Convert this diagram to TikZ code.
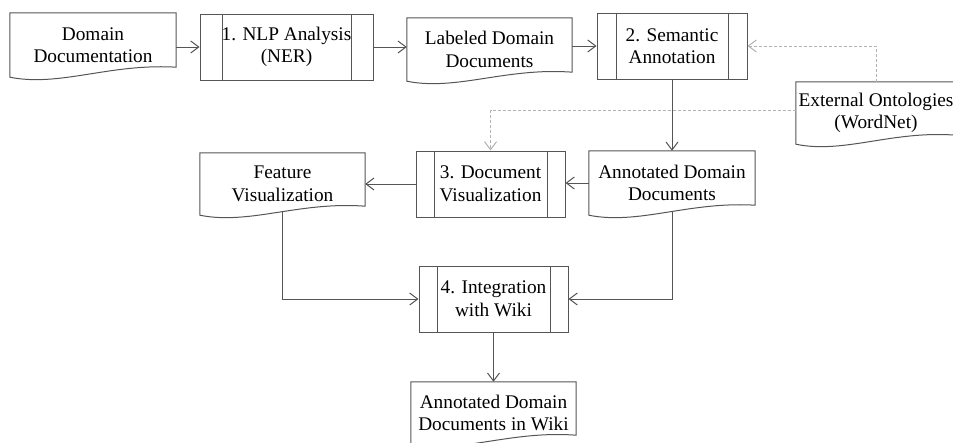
\documentclass[tikz,border=0pt]{standalone}
\usepackage{fontspec}
\setmainfont{Liberation Serif}
\newfontfamily\diagfont{Liberation Serif}
\usetikzlibrary{arrows.meta,calc}
\definecolor{linec}{RGB}{85,85,85}
\definecolor{dashc}{RGB}{178,178,178}
\tikzset{
  boxline/.style={draw=linec,line width=1pt},
  txt/.style={font=\diagfont\fontsize{19.3}{22.5}\selectfont, align=center, text=black, inner sep=0pt},
  docnode/.style={txt, rectangle},
  procbox/.style={txt, boxline, rectangle,
    path picture={\draw[boxline]
      ([xshift=#1pt]path picture bounding box.north west) -- ([xshift=#1pt]path picture bounding box.south west)
      ([xshift=-#1pt]path picture bounding box.north east) -- ([xshift=-#1pt]path picture bounding box.south east);}},
  arr/.style={draw=linec, line width=1pt, -{Straight Barb[length=8pt,width=12pt,line width=1pt]}},
  dasharr/.style={draw=dashc, line width=1pt, dash pattern=on 3pt off 2pt, -{Straight Barb[length=8pt,width=12pt,line width=1pt,sep=0pt]}},
}
\newcommand\drawdocshape[2]{%
  \draw[boxline] (#1.south west) -- (#1.north west) -- (#1.north east) -- ($(#1.south east)+(0,-#2)$)
    .. controls ($(#1.south west)!0.6!(#1.south east)+(0,-14)$) and ($(#1.south west)!0.3!(#1.south east)+(0,10)$) .. (#1.south west) -- cycle;}
\begin{document}
\begin{tikzpicture}[x=1pt,y=-1pt]
\useasboundingbox (0,0) rectangle (953,442);
% document-shaped nodes
\node[docnode, minimum width=166pt, minimum height=64pt] (dd) at (93,45) {Domain\\Documentation};
\node[docnode, minimum width=165pt, minimum height=63pt] (ldd) at (489.5,49.5) {Labeled Domain\\Documents};
\node[docnode, minimum width=160pt, minimum height=62pt] (ext) at (876,113) {External Ontologies\\(WordNet)};
\node[docnode, minimum width=165pt, minimum height=62pt] (fv) at (282.5,184) {Feature\\Visualization};
\node[docnode, minimum width=166pt, minimum height=64pt] (add) at (672,183) {Annotated Domain\\Documents};
\node[docnode, minimum width=165pt, minimum height=62pt] (wiki) at (493.5,413) {Annotated Domain\\Documents in Wiki};
\drawdocshape{dd}{10}
\drawdocshape{ldd}{9}
\drawdocshape{ext}{9}
\drawdocshape{fv}{9}
\drawdocshape{add}{10}
\drawdocshape{wiki}{9}
% process nodes
\node[procbox=22, minimum width=173pt, minimum height=66pt] (nlp) at (286.5,47) {1. NLP Analysis\\(NER)};
\node[procbox=19, minimum width=150pt, minimum height=66pt] (sem) at (672,46) {2. Semantic\\Annotation};
\node[procbox=18, minimum width=149pt, minimum height=66pt] (dv) at (490.5,184) {3. Document\\Visualization};
\node[procbox=18, minimum width=149pt, minimum height=66pt] (iw) at (493.5,299) {4. Integration\\with Wiki};
% connectors
\draw[arr] (dd.east |- nlp.west) -- (nlp.west);
\draw[arr] (nlp.east) -- (nlp.east -| ldd.west);
\draw[arr] (ldd.east |- sem.west) -- (sem.west);
\draw[arr] (sem.south) -- (add.north);
\draw[dasharr] (ext.north) |- (sem.east);
\draw[dasharr] ([yshift=3pt]ext.west) -| (dv.north);
\draw[arr] (add.west) -- (add.west -| dv.east);
\draw[arr] (dv.west) -- (dv.west -| fv.east);
\draw[arr] ([yshift=4pt]fv.south) |- (iw.west);
\draw[arr] ([yshift=4pt]add.south) |- (iw.east);
\draw[arr] (iw.south) -- (wiki.north);
\end{tikzpicture}
\end{document}
